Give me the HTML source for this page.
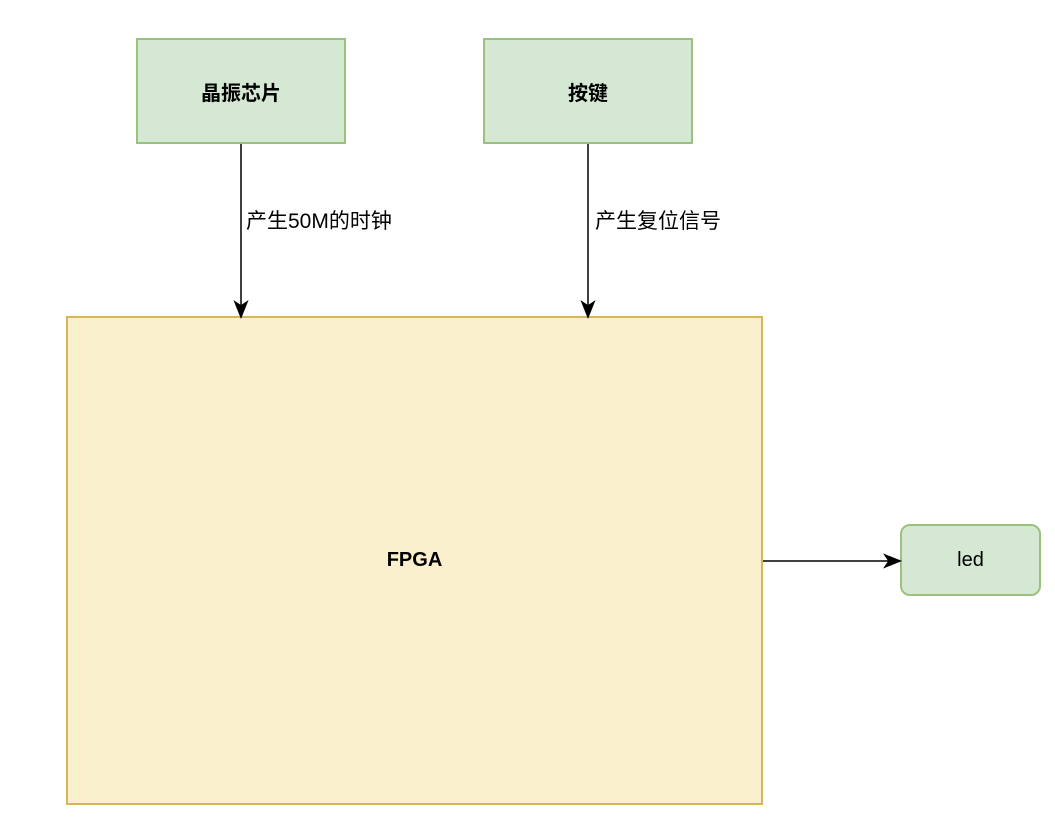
<!DOCTYPE html>
<html><head><meta charset="utf-8"><style>
body{margin:0;width:1055px;height:834px;background:#fff;position:relative;font-family:"Liberation Sans","Noto Sans CJK SC",sans-serif;}
.b{position:absolute;box-sizing:border-box;display:flex;align-items:center;justify-content:center;font-size:20px;color:#000;}
.g{background:#d5e8d4;border:2px solid #9ac27e;font-weight:bold;}
.l{position:absolute;font-size:21px;line-height:24px;}
</style></head><body>
<div class="b g" style="left:136px;top:38px;width:210px;height:106px;">晶振芯片</div>
<div class="b g" style="left:483px;top:38px;width:210px;height:106px;">按键</div>
<div class="b" style="left:66px;top:316px;width:697px;height:489px;background:#fbf0cd;border:2px solid #d6b656;font-weight:bold;">FPGA</div>
<div class="b" style="left:900px;top:524px;width:141px;height:72px;background:#d5e8d4;border:2px solid #9ac27e;border-radius:10px;">led</div>
<svg width="1055" height="834" style="position:absolute;left:0;top:0">
<g stroke="#000" stroke-width="1.5" fill="#000">
<line x1="241" y1="144" x2="241" y2="308"/>
<path d="M241 317 L235 302 L241 306 L247 302 Z"/>
<line x1="588" y1="144" x2="588" y2="308"/>
<path d="M588 317 L582 302 L588 306 L594 302 Z"/>
<line x1="763" y1="561" x2="892" y2="561"/>
<path d="M900 561 L885 555 L889 561 L885 567 Z"/>
</g></svg>
<div class="l" style="left:246px;top:210px;">产生50M的时钟</div>
<div class="l" style="left:595px;top:210px;">产生复位信号</div>
</body></html>
